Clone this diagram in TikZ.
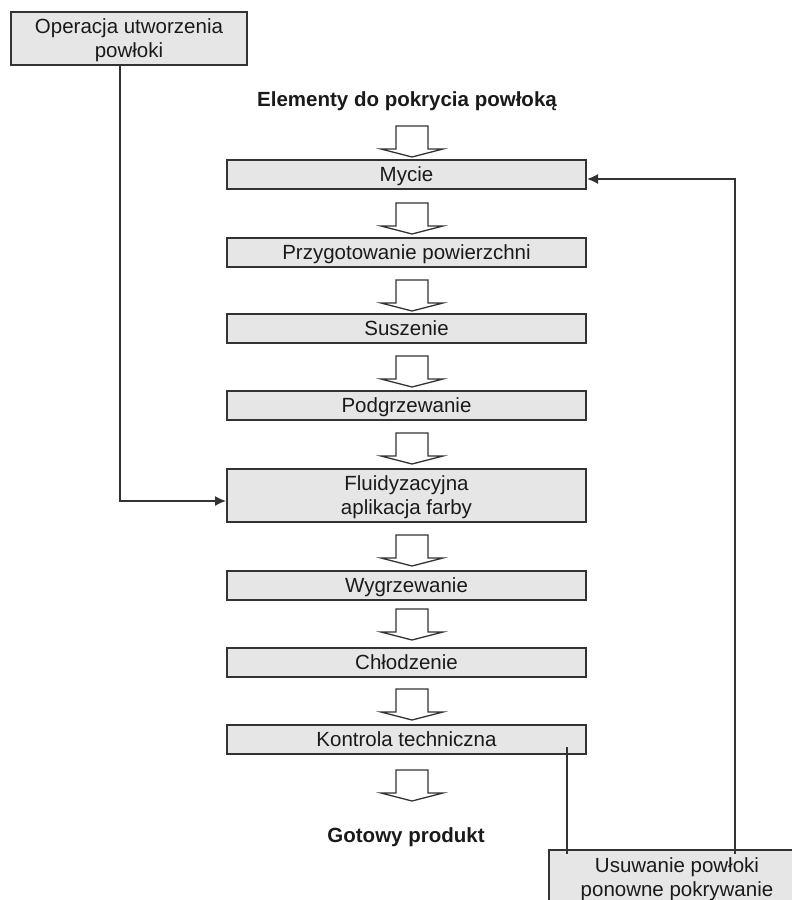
\documentclass[tikz,border=0pt]{standalone}
\usepackage{fontspec}
\setmainfont{Liberation Sans}
\usetikzlibrary{arrows.meta}
\definecolor{boxfill}{HTML}{E6E6E6}
\definecolor{boxline}{HTML}{333333}
\definecolor{txt}{HTML}{1A1A1A}
\tikzset{
  txtfont/.style={font=\fontsize{20.5}{24}\selectfont, text=txt},
  basebox/.style={draw=boxline, line width=2pt, fill=boxfill, inner sep=0pt,
    text depth=0pt, align=center, txtfont},
  stagebox/.style={basebox, minimum width=359pt, minimum height=29pt},
  oneline/.style={text height=14.7pt},
  headtext/.style={font=\bfseries\fontsize{20.5}{24}\selectfont, text=txt, inner sep=0pt},
  conn/.style={draw=boxline, line width=1.6pt},
  connarrow/.style={conn, -{Latex[length=11pt,width=10pt]}},
  blockarrowstyle/.style={draw=boxline, line width=1.3pt, fill=white, line join=miter},
  blockarrow/.pic={\draw[blockarrowstyle] (-16,0) -- (16,0) -- (16,23) -- (31,23) -- (0,31) -- (-31,23) -- (-16,23) -- cycle;}
}
\begin{document}
\begin{tikzpicture}[x=1pt, y=-1pt]
\clip (0,0) rectangle (792,900);
\fill[white] (0,0) rectangle (792,900);

% side box top-left
\node[basebox, minimum width=236pt, minimum height=53pt] (oper) at (129,38) {Operacja utworzenia\\powłoki};

% title
\node[headtext] (title) at (407,101) {Elementy do pokrycia powłoką};

% main stages
\node[stagebox, oneline] (mycie) at (406.5,174.5) {Mycie};
\node[stagebox, oneline] (przyg) at (406.5,252) {Przygotowanie powierzchni};
\node[stagebox, oneline] (sus) at (406.5,328.5) {Suszenie};
\node[stagebox, oneline] (podg) at (406.5,405.5) {Podgrzewanie};
\node[stagebox, minimum height=53pt] (fluid) at (406.5,495.5) {Fluidyzacyjna\\aplikacja farby};
\node[stagebox, oneline] (wygrz) at (406.5,585) {Wygrzewanie};
\node[stagebox, oneline] (chl) at (406.5,662.5) {Chłodzenie};
\node[stagebox, oneline] (kontr) at (406.5,739) {Kontrola techniczna};

\node[headtext] (gotowy) at (406,837) {Gotowy produkt};

% side box bottom-right
\node[basebox, minimum width=256pt, minimum height=56pt] (usun) at (677,877.5) {Usuwanie powłoki\\ponowne pokrywanie};

% block arrows
\pic at (412,126) {blockarrow};
\pic at (412,203) {blockarrow};
\pic at (412,280) {blockarrow};
\pic at (412,356) {blockarrow};
\pic at (412,433) {blockarrow};
\pic at (412,535) {blockarrow};
\pic at (412,609) {blockarrow};
\pic at (412,689) {blockarrow};
\pic at (412,770) {blockarrow};

% connectors
\draw[connarrow] ([xshift=-9pt]oper.south) |- ([yshift=-5.5pt]fluid.west);

\coordinate (rstart) at ([xshift=58pt,yshift=-5pt]usun.north);
\draw[connarrow] (rstart) |- ([yshift=-4.5pt]mycie.east);

\coordinate (k1) at ([xshift=-20pt,yshift=-8pt]kontr.east);
\coordinate (u1) at ([yshift=-5pt]usun.north);
\draw[conn] (k1) -- (k1 |- u1);
\end{tikzpicture}
\end{document}
